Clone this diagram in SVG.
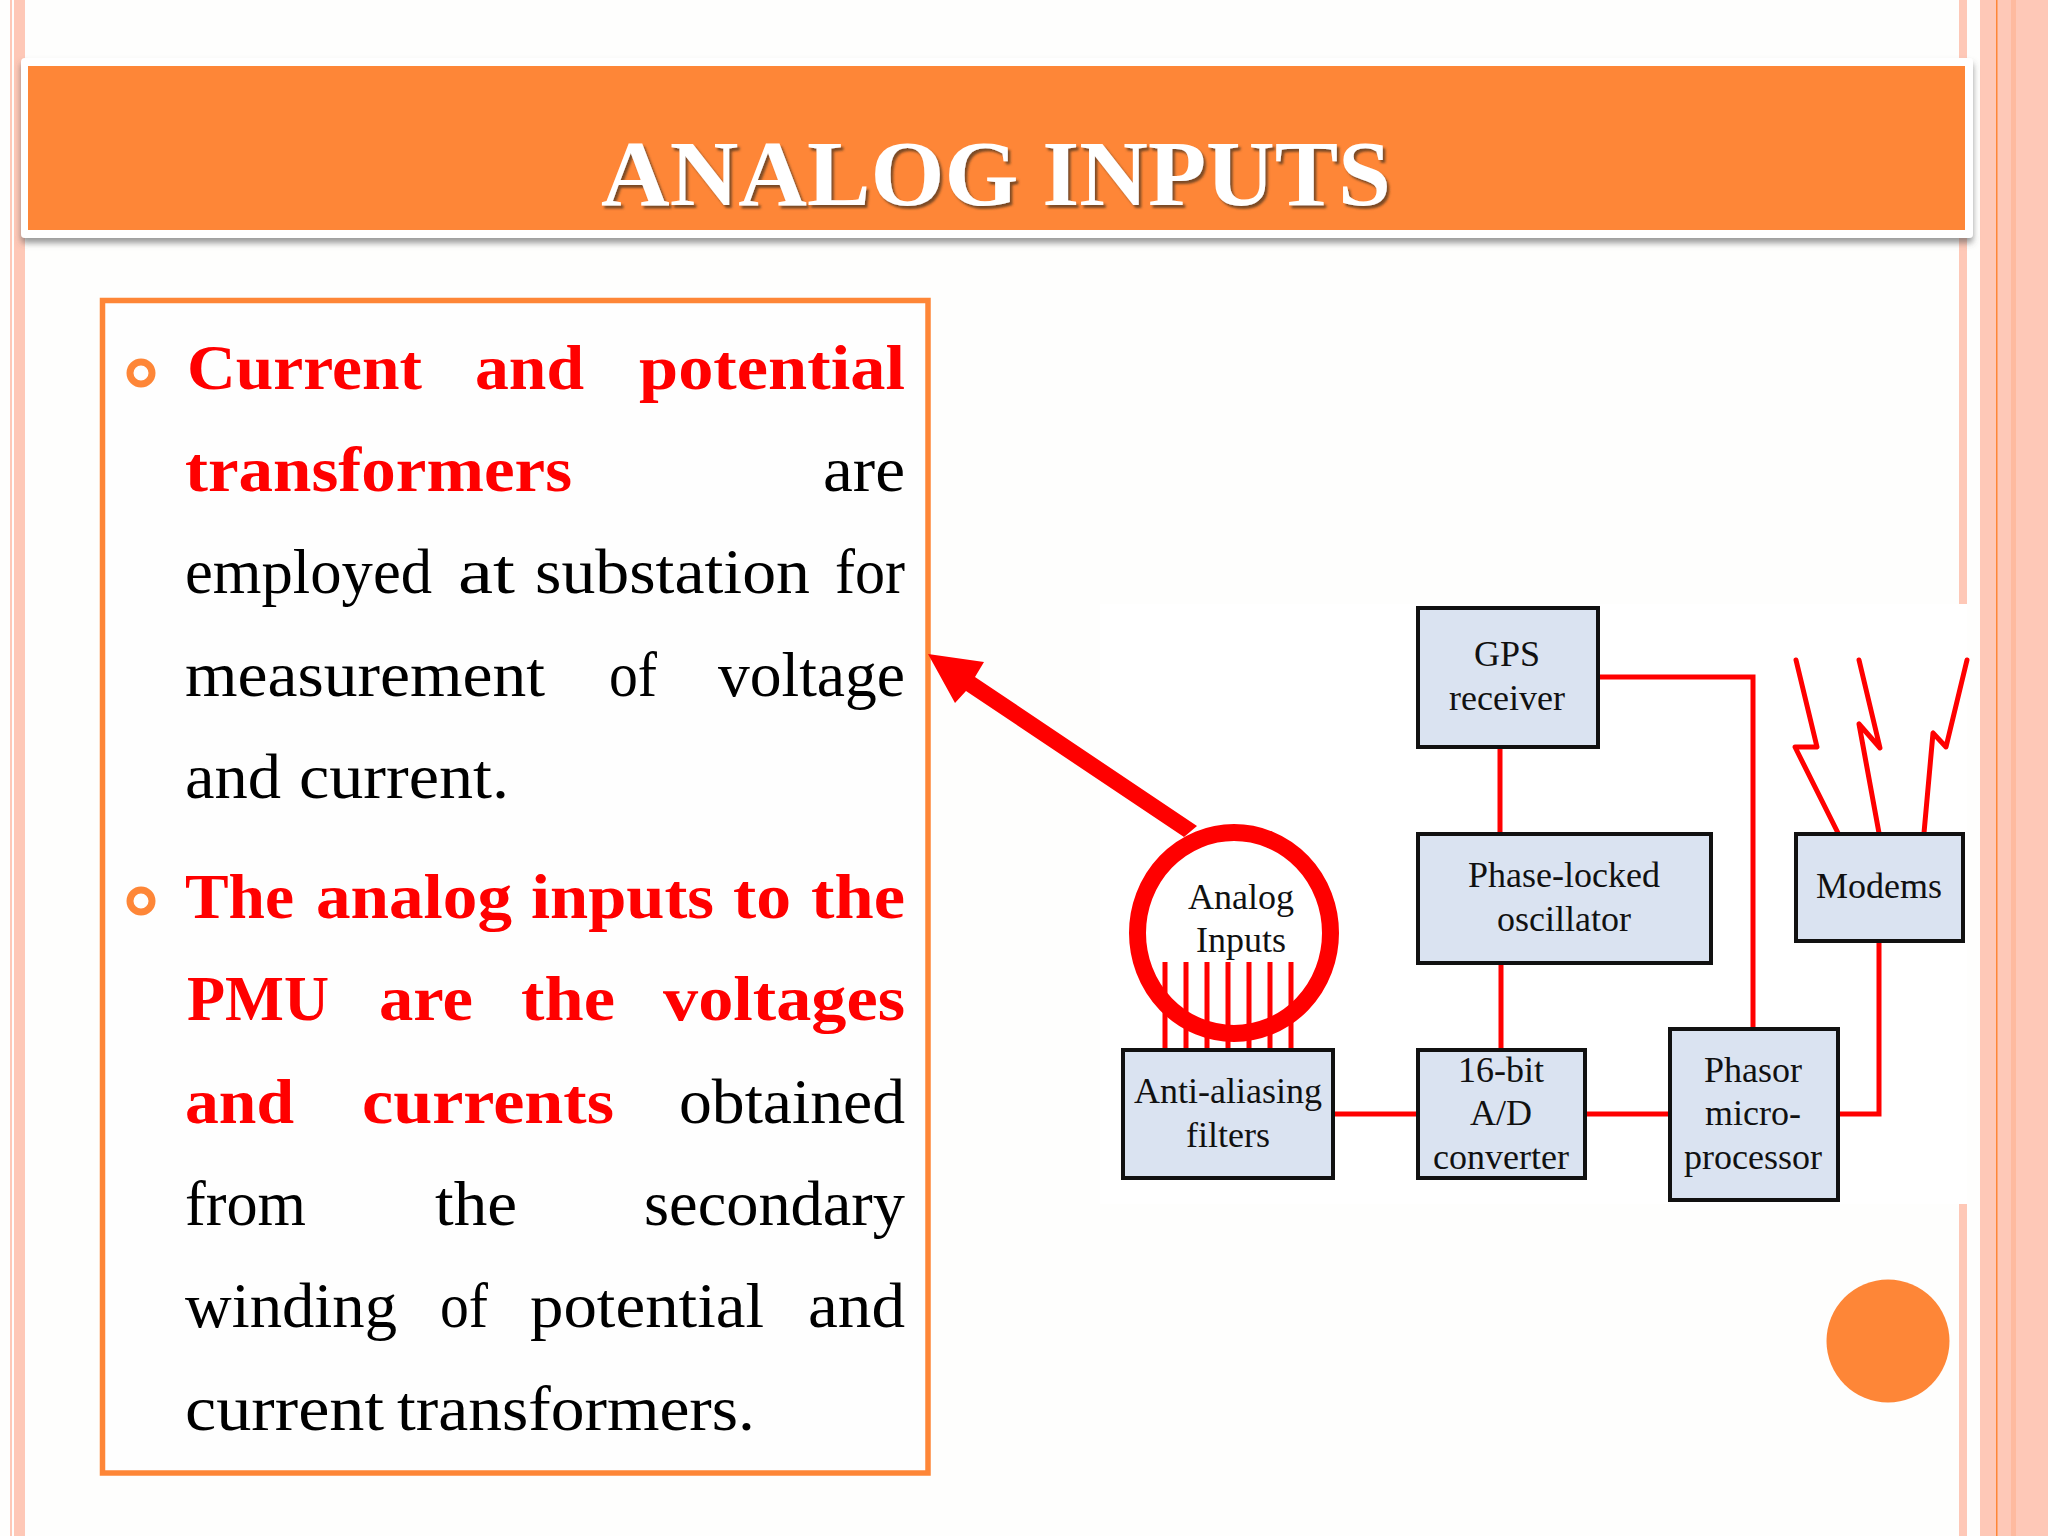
<svg xmlns="http://www.w3.org/2000/svg" width="2048" height="1536" viewBox="0 0 2048 1536">
<style>
.body{font-family:"Liberation Serif","Times New Roman",serif;font-size:63px;fill:#000}
.b{font-weight:700;fill:#f00}
.lbl{font-family:"Liberation Serif","Times New Roman",serif;font-size:36px;fill:#111;text-anchor:middle}
.box{fill:#dae3f1;stroke:#111;stroke-width:4}
.w{fill:none;stroke:#f00;stroke-width:5}
.p{fill:#fec8b7}
</style>
<defs>
<filter id="sh" x="-5%" y="-10%" width="110%" height="130%"><feDropShadow dx="0" dy="5" stdDeviation="3" flood-color="#555" flood-opacity="0.6"/></filter>
<filter id="ts" x="-5%" y="-10%" width="110%" height="130%"><feDropShadow dx="2.500" dy="3" stdDeviation="1.200" flood-color="#5a3a20" flood-opacity="0.8"/></filter>
</defs>
<rect width="2048" height="1536" fill="#fefefd"/>
<g id="frame">
<rect class="p" x="14" y="0" width="11" height="1536"/>
<rect class="p" x="10" y="0" width="2" height="1536"/>
<rect class="p" x="1959" y="0" width="8" height="604"/>
<rect class="p" x="1959" y="1204" width="8" height="332"/>
<rect class="p" x="1980" y="0" width="68" height="1536"/>
<rect x="1996" y="0" width="1.500" height="1536" fill="#fe8637"/>
<rect x="2011" y="0" width="5" height="1536" fill="#feba9f"/>
</g>
<g id="title">
<rect x="21" y="58" width="1952" height="180" rx="4" fill="#fff" filter="url(#sh)"/>
<rect x="28" y="66" width="1937" height="164" fill="#fe8637"/>
<text x="996" y="205" text-anchor="middle" textLength="790" lengthAdjust="spacingAndGlyphs" font-family="Liberation Serif, Times New Roman, serif" font-weight="700" font-size="94" fill="#fff" filter="url(#ts)">ANALOG INPUTS</text>
</g>
<g id="content">
<rect x="102.500" y="300.500" width="825.500" height="1172.500" fill="#fefefe" stroke="#fe8637" stroke-width="5.500"/>
<circle cx="141" cy="373" r="11" fill="none" stroke="#fe8637" stroke-width="7"/>
<circle cx="141" cy="901" r="11" fill="none" stroke="#fe8637" stroke-width="7"/>
<text class="body" y="389"><tspan class="b" x="187" textLength="235" lengthAdjust="spacingAndGlyphs">Current</tspan> <tspan class="b" x="475" textLength="109" lengthAdjust="spacingAndGlyphs">and</tspan> <tspan class="b" x="639" textLength="266" lengthAdjust="spacingAndGlyphs">potential</tspan></text>
<text class="body" y="491"><tspan class="b" x="185" textLength="387" lengthAdjust="spacingAndGlyphs">transformers</tspan> <tspan x="823" textLength="82" lengthAdjust="spacingAndGlyphs">are</tspan></text>
<text class="body" y="593"><tspan x="185" textLength="247" lengthAdjust="spacingAndGlyphs">employed</tspan> <tspan x="458" textLength="57" lengthAdjust="spacingAndGlyphs">at</tspan> <tspan x="535" textLength="275" lengthAdjust="spacingAndGlyphs">substation</tspan> <tspan x="835" textLength="70" lengthAdjust="spacingAndGlyphs">for</tspan></text>
<text class="body" y="696"><tspan x="185" textLength="360" lengthAdjust="spacingAndGlyphs">measurement</tspan> <tspan x="609" textLength="48" lengthAdjust="spacingAndGlyphs">of</tspan> <tspan x="718" textLength="187" lengthAdjust="spacingAndGlyphs">voltage</tspan></text>
<text class="body" y="798"><tspan x="185" textLength="96" lengthAdjust="spacingAndGlyphs">and</tspan> <tspan x="299" textLength="210" lengthAdjust="spacingAndGlyphs">current.</tspan></text>
<text class="body" y="918"><tspan class="b" x="185" textLength="109" lengthAdjust="spacingAndGlyphs">The</tspan> <tspan class="b" x="316" textLength="196" lengthAdjust="spacingAndGlyphs">analog</tspan> <tspan class="b" x="531" textLength="183" lengthAdjust="spacingAndGlyphs">inputs</tspan> <tspan class="b" x="733" textLength="58" lengthAdjust="spacingAndGlyphs">to</tspan> <tspan class="b" x="811" textLength="94" lengthAdjust="spacingAndGlyphs">the</tspan></text>
<text class="body" y="1020"><tspan class="b" x="187" textLength="142" lengthAdjust="spacingAndGlyphs">PMU</tspan> <tspan class="b" x="379" textLength="94" lengthAdjust="spacingAndGlyphs">are</tspan> <tspan class="b" x="521" textLength="94" lengthAdjust="spacingAndGlyphs">the</tspan> <tspan class="b" x="663" textLength="242" lengthAdjust="spacingAndGlyphs">voltages</tspan></text>
<text class="body" y="1123"><tspan class="b" x="185" textLength="109" lengthAdjust="spacingAndGlyphs">and</tspan> <tspan class="b" x="362" textLength="252" lengthAdjust="spacingAndGlyphs">currents</tspan> <tspan x="679" textLength="226" lengthAdjust="spacingAndGlyphs">obtained</tspan></text>
<text class="body" y="1225"><tspan x="185" textLength="121" lengthAdjust="spacingAndGlyphs">from</tspan> <tspan x="435" textLength="82" lengthAdjust="spacingAndGlyphs">the</tspan> <tspan x="644" textLength="261" lengthAdjust="spacingAndGlyphs">secondary</tspan></text>
<text class="body" y="1327"><tspan x="185" textLength="212" lengthAdjust="spacingAndGlyphs">winding</tspan> <tspan x="440" textLength="48" lengthAdjust="spacingAndGlyphs">of</tspan> <tspan x="530" textLength="234" lengthAdjust="spacingAndGlyphs">potential</tspan> <tspan x="808" textLength="97" lengthAdjust="spacingAndGlyphs">and</tspan></text>
<text class="body" y="1430"><tspan x="185" textLength="199" lengthAdjust="spacingAndGlyphs">current</tspan> <tspan x="397" textLength="358" lengthAdjust="spacingAndGlyphs">transformers.</tspan></text>
</g>
<rect x="1100" y="604" width="867" height="600" fill="#fff"/>
<g id="connectors">
<path class="w" d="M1500 747V833M1501 964V1048M1599 677H1753V1027M1334 1114H1417M1585 1114H1669M1838 1114H1879V941"/>
<path class="w" d="M1165 962V1048M1186 962V1048M1207 962V1048M1228 962V1048M1249 962V1048M1270 962V1048M1291 962V1048"/>
<path class="w" stroke-linecap="round" stroke-linejoin="round" d="M1796 660L1817 747H1795L1838 833M1859 660L1880 748L1859 724L1879 833M1967 660L1946 747L1933 733L1924 833"/>
<path d="M1197 826L1184 837L966 691L955 703L928 654L984 662L975 677Z" fill="#f00"/>
</g>
<g id="analog"><ellipse cx="1234" cy="933" rx="96.500" ry="100.500" fill="none" stroke="#f00" stroke-width="17"/><text class="lbl" x="1241" y="909">Analog</text><text class="lbl" x="1241" y="952">Inputs</text></g>
<g id="anti"><rect class="box" x="1123" y="1050" width="210" height="128"/><text class="lbl" x="1228" y="1103">Anti-aliasing</text><text class="lbl" x="1228" y="1147">filters</text></g>
<g id="adc"><rect class="box" x="1418" y="1050" width="167" height="128"/><text class="lbl" x="1501" y="1082">16-bit</text><text class="lbl" x="1501" y="1125">A/D</text><text class="lbl" x="1501" y="1169">converter</text></g>
<g id="phasor"><rect class="box" x="1670" y="1029" width="168" height="171"/><text class="lbl" x="1753" y="1082">Phasor</text><text class="lbl" x="1753" y="1125">micro-</text><text class="lbl" x="1753" y="1169">processor</text></g>
<g id="gps"><rect class="box" x="1418" y="608" width="180" height="139"/><text class="lbl" x="1507" y="666">GPS</text><text class="lbl" x="1507" y="710">receiver</text></g>
<g id="pll"><rect class="box" x="1418" y="834" width="293" height="129"/><text class="lbl" x="1564" y="887">Phase-locked</text><text class="lbl" x="1564" y="931">oscillator</text></g>
<g id="modems"><rect class="box" x="1796" y="834" width="167" height="107"/><text class="lbl" x="1879" y="898">Modems</text></g>
<circle id="dot" cx="1888" cy="1341" r="61.500" fill="#fe8637"/>
</svg>
